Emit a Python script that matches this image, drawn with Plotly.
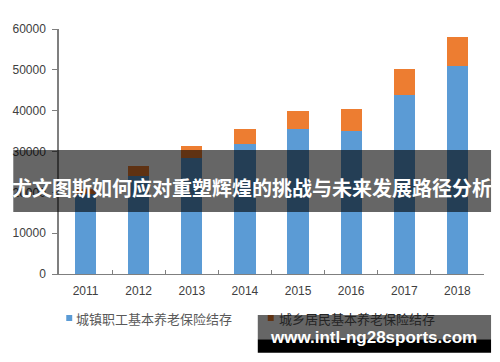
import plotly.graph_objects as go

# ---- data ----
years = ["2011", "2012", "2013", "2014", "2015", "2016", "2017", "2018"]
urban_employee = [19500, 24000, 28300, 31800, 35400, 35000, 43900, 51000]
urban_rural = [1200, 2400, 3100, 3700, 4500, 5400, 6350, 7100]
series_names = ["城镇职工基本养老保险结存", "城乡居民基本养老保险结存"]
y_ticks = [0, 10000, 20000, 30000, 40000, 50000, 60000]
title_text = "尤文图斯如何应对重塑辉煌的挑战与未来发展路径分析"
watermark_text = "www.intl-ng28sports.com"

BLUE = "#5B9BD5"
ORANGE = "#ED7D31"

# ---- layout geometry (pixels) ----
W, H = 500, 362
L, R, T, B = 56, 483.6, 29, 274


def px(x):
    return (x - L) / (R - L)


def py(y):
    return (B - y) / (B - T)


fig = go.Figure()
fig.add_bar(x=years, y=urban_employee, name=series_names[0],
            marker=dict(color=BLUE, line=dict(width=0)), showlegend=False)
fig.add_bar(x=years, y=urban_rural, name=series_names[1],
            marker=dict(color=ORANGE, line=dict(width=0)), showlegend=False)

tick_font = dict(family="Liberation Sans, Arial, sans-serif", size=12, color="#404040")

shapes = []
annotations = []

# legend squares (drawn first so overlays cover them)
shapes.append(dict(type="rect", xref="paper", yref="paper",
                   x0=px(63.3), x1=px(69.3), y0=py(321), y1=py(315),
                   fillcolor=BLUE, line=dict(width=0), layer="above"))
shapes.append(dict(type="rect", xref="paper", yref="paper",
                   x0=px(266), x1=px(272), y0=py(321), y1=py(315),
                   fillcolor=ORANGE, line=dict(width=0), layer="above"))

# title banner
shapes.append(dict(type="rect", xref="paper", yref="paper",
                   x0=px(10), x1=px(490.7), y0=py(212), y1=py(150),
                   fillcolor="rgba(0,0,0,0.6)", line=dict(width=0), layer="above"))
# watermark box
shapes.append(dict(type="rect", xref="paper", yref="paper",
                   x0=px(256), x1=px(490.7), y0=py(339.3), y1=py(315),
                   fillcolor="rgba(0,0,0,0.6)", line=dict(width=0), layer="above"))
shapes.append(dict(type="rect", xref="paper", yref="paper",
                   x0=px(256), x1=px(490.7), y0=py(352.7), y1=py(339.3),
                   fillcolor="black", line=dict(width=0), layer="above"))

legend_font = dict(family="Noto Sans CJK SC, sans-serif", size=13)
annotations.append(dict(text=series_names[0], xref="paper", yref="paper",
                        x=px(71.5), y=py(318), xanchor="left", yanchor="middle",
                        showarrow=False, font=dict(**legend_font, color="#595959")))
annotations.append(dict(text=series_names[1], xref="paper", yref="paper",
                        x=px(275.5), y=py(318), xanchor="left", yanchor="middle",
                        showarrow=False, font=dict(**legend_font, color="#242424")))

annotations.append(dict(text=title_text, xref="paper", yref="paper",
                        x=px(250), y=py(187), xanchor="center", yanchor="middle",
                        showarrow=False,
                        font=dict(family="Noto Sans CJK SC, sans-serif", size=20,
                                  color="white", weight="bold")))
annotations.append(dict(text=watermark_text, xref="paper", yref="paper",
                        x=px(372.5), y=py(337), xanchor="center", yanchor="middle",
                        showarrow=False,
                        font=dict(family="Liberation Sans, Arial, sans-serif", size=17,
                                  color="white", weight="bold")))

fig.update_layout(
    width=W, height=H,
    margin=dict(l=L, r=W - R, t=T, b=H - B, pad=0),
    barmode="stack",
    bargap=0.6,
    plot_bgcolor="white",
    paper_bgcolor="white",
    showlegend=False,
    shapes=shapes,
    annotations=annotations,
    xaxis=dict(
        type="category",
        showline=True, linecolor="#7f7f7f", linewidth=1,
        ticks="inside", tickson="boundaries", ticklen=4, tickcolor="#7f7f7f",
        tickfont=tick_font, ticklabelstandoff=6,
        showgrid=False, zeroline=False,
    ),
    yaxis=dict(
        range=[0, 60000], tickvals=y_ticks,
        ticktext=[str(v) for v in y_ticks],
        showline=True, linecolor="#7f7f7f", linewidth=1.5,
        ticks="outside", ticklen=5, tickcolor="#7f7f7f",
        tickfont=tick_font, ticklabelstandoff=4,
        showgrid=False, zeroline=False,
    ),
)

fig.write_html("out.html",
               config={"displayModeBar": False},
               post_script="document.body.style.margin='0';document.body.style.overflow='hidden';")
